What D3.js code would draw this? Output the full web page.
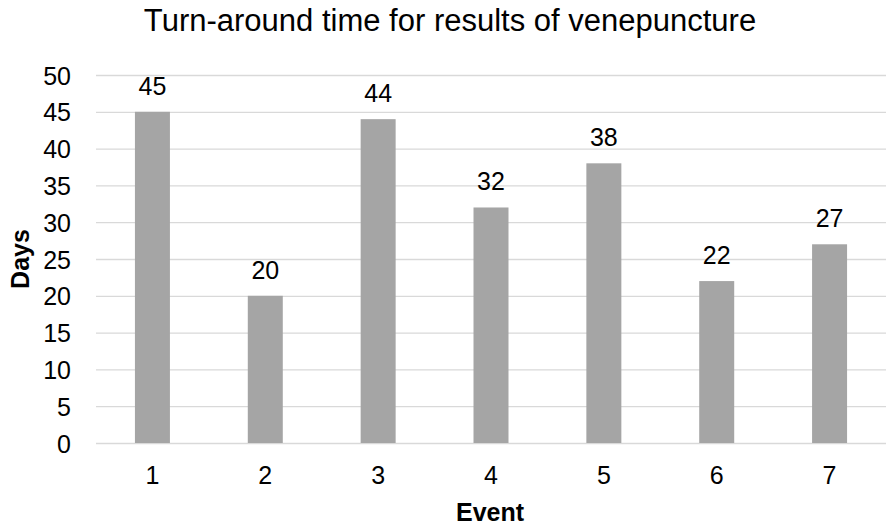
<!DOCTYPE html>
<meta charset="utf-8">
<style>
  body { margin: 0; background: #fff; }
  text { font-family: "Liberation Sans", Arial, sans-serif; fill: #000; }
</style>
<script src="https://d3js.org/d3.v7.min.js"></script>
<div id="chart"></div>
<script>
// data
var events = ["1", "2", "3", "4", "5", "6", "7"];
var days = [45, 20, 44, 32, 38, 22, 27];
var yTicks = [0, 5, 10, 15, 20, 25, 30, 35, 40, 45, 50];

var W = 886, H = 526;
var margin = {top: 75, right: 0, bottom: 83, left: 96};
var width = W - margin.left - margin.right,
    height = H - margin.top - margin.bottom;

var svg = d3.select("#chart").append("svg")
    .attr("width", W)
    .attr("height", H);

var g = svg.append("g")
    .attr("transform", "translate(" + margin.left + "," + margin.top + ")");

var x = d3.scaleBand()
    .domain(events)
    .range([0, width])
    .paddingInner(0.69)
    .paddingOuter(0.345);

var y = d3.scaleLinear()
    .domain([0, 50])
    .range([height, 0]);

// gridlines
g.append("g")
  .call(d3.axisLeft(y).tickValues(yTicks).tickSize(-width).tickFormat(""))
  .call(function(a) {
    a.select(".domain").remove();
    a.selectAll("line").attr("stroke", "#d9d9d9").attr("stroke-width", 1.3);
  });

// y tick labels
g.append("g")
  .call(d3.axisLeft(y).tickValues(yTicks).tickSize(0).tickPadding(25))
  .call(function(a) {
    a.select(".domain").remove();
    a.selectAll("text")
      .style("font-size", "25px")
      .style("font-family", "'Liberation Sans', Arial, sans-serif")
      .attr("dy", "0.36em");
  });

// bars
g.selectAll(".bar")
  .data(days)
  .enter().append("rect")
    .attr("class", "bar")
    .attr("x", function(d, i) { return x(events[i]); })
    .attr("y", function(d) { return y(d); })
    .attr("width", x.bandwidth())
    .attr("height", function(d) { return height - y(d); })
    .attr("fill", "#a5a5a5");

// value labels
g.selectAll(".val")
  .data(days)
  .enter().append("text")
    .attr("class", "val")
    .attr("x", function(d, i) { return x(events[i]) + x.bandwidth() / 2; })
    .attr("y", function(d) { return y(d) - 17; })
    .attr("text-anchor", "middle")
    .style("font-size", "25px")
    .text(function(d) { return d; });

// x axis labels
g.append("g")
  .attr("transform", "translate(0," + height + ")")
  .call(d3.axisBottom(x).tickSize(0).tickPadding(0))
  .call(function(a) {
    a.select(".domain").remove();
    a.selectAll("text")
      .style("font-size", "25px")
      .style("font-family", "'Liberation Sans', Arial, sans-serif")
      .attr("dy", null)
      .attr("y", 41);
  });

// titles
svg.append("text")
  .attr("x", 450)
  .attr("y", 31)
  .attr("text-anchor", "middle")
  .style("font-size", "31px")
  .text("Turn-around time for results of venepuncture");

svg.append("text")
  .attr("x", 490)
  .attr("y", 521)
  .attr("text-anchor", "middle")
  .style("font-size", "25px")
  .style("font-weight", "bold")
  .text("Event");

svg.append("text")
  .attr("transform", "translate(29," + (margin.top + height / 2) + ") rotate(-90)")
  .attr("text-anchor", "middle")
  .style("font-size", "25px")
  .style("font-weight", "bold")
  .text("Days");
</script>
